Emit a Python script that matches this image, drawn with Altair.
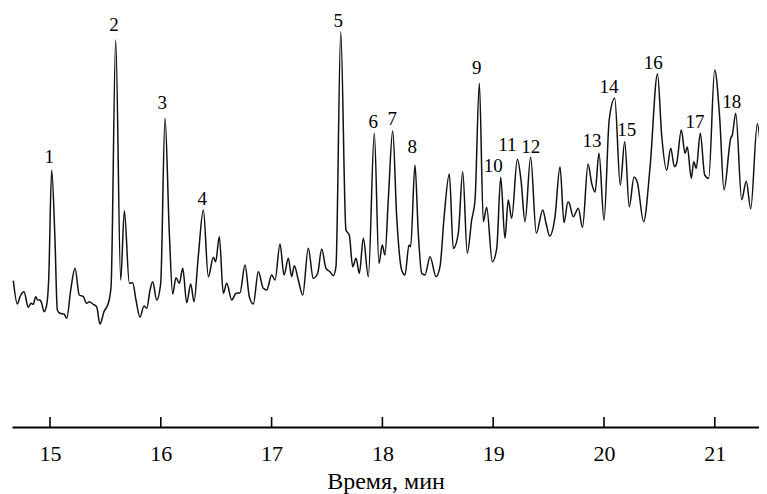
import altair as alt
import pandas as pd

# Retention time (min) and detector signal (arbitrary units)
time_min = [
    14.669, 14.705, 14.729, 14.765, 14.804, 14.829, 14.849, 14.871, 14.889, 14.910,
    14.925, 14.946, 14.970, 14.988, 15.015, 15.045, 15.066, 15.090, 15.126, 15.151,
    15.187, 15.226, 15.264, 15.301, 15.331, 15.355, 15.385, 15.421, 15.451, 15.487,
    15.526, 15.551, 15.593, 15.638, 15.671, 15.716, 15.746, 15.776, 15.812, 15.848,
    15.873, 15.903, 15.927, 15.963, 15.999, 16.038, 16.077, 16.107, 16.137, 16.167,
    16.198, 16.234, 16.270, 16.300, 16.338, 16.384, 16.429, 16.474, 16.495, 16.528,
    16.564, 16.595, 16.640, 16.679, 16.715, 16.760, 16.799, 16.835, 16.880, 16.925,
    16.956, 17.001, 17.031, 17.076, 17.112, 17.151, 17.181, 17.205, 17.241, 17.281,
    17.331, 17.376, 17.416, 17.452, 17.491, 17.527, 17.557, 17.581, 17.624, 17.671,
    17.701, 17.732, 17.762, 17.792, 17.828, 17.873, 17.927, 17.969, 17.999, 18.023,
    18.053, 18.093, 18.129, 18.174, 18.204, 18.240, 18.255, 18.294, 18.324, 18.355,
    18.384, 18.430, 18.484, 18.520, 18.556, 18.604, 18.640, 18.685, 18.725, 18.766,
    18.806, 18.836, 18.875, 18.911, 18.941, 18.992, 19.032, 19.068, 19.106, 19.136,
    19.167, 19.218, 19.251, 19.287, 19.338, 19.389, 19.447, 19.477, 19.510, 19.558,
    19.603, 19.639, 19.675, 19.687, 19.723, 19.768, 19.806, 19.856, 19.889, 19.919,
    19.955, 20.000, 20.047, 20.097, 20.147, 20.187, 20.228, 20.271, 20.301, 20.358,
    20.415, 20.483, 20.521, 20.566, 20.602, 20.636, 20.656, 20.698, 20.731, 20.752,
    20.788, 20.810, 20.833, 20.869, 20.909, 20.945, 20.999, 21.044, 21.083, 21.144,
    21.158, 21.189, 21.243, 21.284, 21.324, 21.384, 21.423, 21.453, 21.471,
]
signal = [
    146.3, 123.0, 130.3, 135.3, 119.7, 123.7, 122.7, 130.3, 127.0, 127.0,
    123.7, 115.3, 122.0, 147.0, 257.0, 187.0, 117.0, 113.7, 113.0, 108.7,
    137.0, 158.7, 132.0, 130.3, 123.7, 125.3, 123.0, 120.3, 103.0, 115.3,
    123.7, 140.3, 387.0, 147.0, 216.3, 143.7, 144.3, 127.0, 109.7, 121.0,
    118.7, 137.0, 145.3, 127.0, 143.7, 308.7, 193.7, 133.0, 149.3, 143.7,
    158.7, 124.3, 143.0, 125.3, 170.3, 217.0, 150.3, 169.7, 165.3, 190.3,
    133.7, 143.7, 127.0, 133.7, 134.3, 162.0, 130.3, 123.0, 155.3, 138.7,
    137.0, 152.0, 147.0, 183.0, 152.0, 168.7, 150.3, 161.3, 147.0, 132.0,
    178.7, 148.7, 153.7, 178.0, 158.7, 155.3, 151.3, 160.3, 395.3, 197.0,
    192.0, 160.3, 168.7, 153.7, 188.7, 150.3, 293.7, 163.7, 182.0, 172.0,
    227.0, 296.3, 210.3, 157.0, 152.0, 182.0, 180.3, 262.0, 193.7, 153.7,
    152.0, 170.3, 150.3, 160.3, 208.7, 253.0, 178.7, 193.7, 255.3, 173.7,
    207.0, 227.0, 343.7, 205.3, 219.7, 165.3, 178.7, 249.7, 188.7, 227.0,
    208.7, 267.7, 247.0, 205.3, 269.7, 193.7, 217.0, 203.7, 191.0, 210.3,
    260.3, 204.5, 225.3, 223.7, 210.3, 218.7, 199.5, 263.0, 243.7, 235.0,
    273.7, 206.7, 307.0, 328.7, 242.0, 285.3, 220.3, 250.0, 244.5, 205.3,
    258.7, 353.0, 291.2, 256.7, 278.7, 260.3, 263.7, 297.0, 273.7, 280.0,
    248.7, 265.3, 258.7, 293.7, 252.0, 248.7, 357.0, 309.5, 237.0, 288.7,
    292.0, 313.7, 227.3, 245.8, 218.2, 303.3, 272.0, 258.0, 257.0,
]

# Peak numbers and where their labels sit
peak_ids = [str(i) for i in range(1, 19)]
peak_time = [14.994, 15.578, 16.014, 16.375, 17.602, 17.918, 18.089, 18.270, 18.851,
             19.001, 19.127, 19.338, 19.892, 20.045, 20.205, 20.445, 20.821, 21.153]
peak_label_level = [270.3, 402.0, 323.7, 228.0, 406.3, 305.3, 307.7, 279.7, 359.3,
                    261.3, 282.5, 280.0, 286.0, 340.0, 297.0, 363.7, 305.3, 324.7]

tick_values = [15, 16, 17, 18, 19, 20, 21]

FONT = "Liberation Serif"
X_DOMAIN = [14.657, 21.399]
Y_DOMAIN = [0, 419]

trace = pd.DataFrame({"t": time_min, "s": signal})
labels = pd.DataFrame({"t": peak_time, "s": peak_label_level, "id": peak_ids})
ticks = pd.DataFrame({"t": tick_values, "lo": [0] * len(tick_values), "hi": [10] * len(tick_values)})

xscale = alt.Scale(domain=X_DOMAIN, nice=False, zero=False)
yscale = alt.Scale(domain=Y_DOMAIN, nice=False, zero=False)

line = alt.Chart(trace).mark_line(
    color="#111111", strokeWidth=1.5, interpolate="monotone", clip=True
).encode(
    x=alt.X("t:Q", scale=xscale,
            axis=alt.Axis(values=tick_values, format="d", title="Время, мин", ticks=False,
                          grid=False, domainColor="#000000", domainWidth=2.2,
                          labelFont=FONT, labelFontSize=22, labelColor="#000000",
                          labelPadding=16, labelFlush=False,
                          titleFont=FONT, titleFontSize=24, titleFontWeight="normal",
                          titleColor="#000000", titlePadding=5)),
    y=alt.Y("s:Q", scale=yscale, axis=None),
)

tick_marks = alt.Chart(ticks).mark_rule(color="#000000", strokeWidth=1.6).encode(
    x=alt.X("t:Q", scale=xscale),
    y=alt.Y("lo:Q", scale=yscale),
    y2="hi:Q",
)

peak_text = alt.Chart(labels).mark_text(
    font=FONT, fontSize=19, color="#000000", align="center", baseline="middle"
).encode(
    x=alt.X("t:Q", scale=xscale),
    y=alt.Y("s:Q", scale=yscale),
    text="id:N",
)

chart = alt.layer(line, tick_marks, peak_text).properties(
    width=747, height=419,
    padding={"left": 4, "top": 0, "right": 0, "bottom": 67},
    autosize=alt.AutoSizeParams(type="none"),
).configure_view(stroke=None)

chart.save("out.html", embed_options={"renderer": "svg", "actions": False})
